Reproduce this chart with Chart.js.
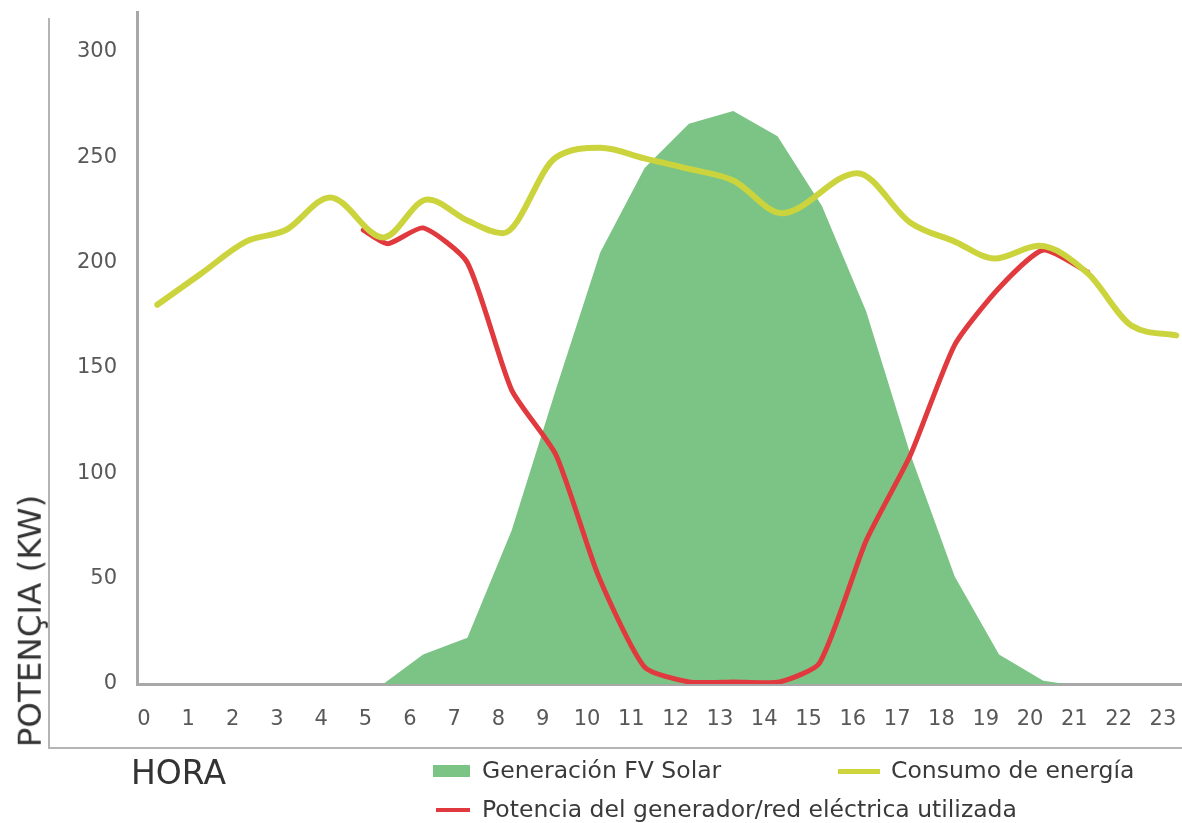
<!DOCTYPE html>
<html lang="es">
<head>
<meta charset="utf-8">
<title>Potencia por hora</title>
<script src="https://cdn.jsdelivr.net/npm/chart.js@4/dist/chart.umd.min.js"></script>
<style>
  html, body { margin: 0; padding: 0; background: #ffffff; }
  #wrap { position: relative; width: 1182px; height: 823px; overflow: hidden; font-family: "DejaVu Sans", sans-serif; color: #333; }
  #chart { position: absolute; left: 0; top: 0; }
  .ytitle { position: absolute; left: 30px; top: 621px; font-size: 32.5px; line-height: 1; white-space: nowrap;
            transform: translate(-50%, -50%) rotate(-90deg); color: #333; }
  .xtitle { position: absolute; left: 131px; top: 756px; font-size: 33px; line-height: 1; color: #333; }
  .leg { position: absolute; font-size: 23.5px; line-height: 1; white-space: nowrap; color: #3a3a3a; }
  .swatch { position: absolute; }
</style>
</head>
<body>
<div id="wrap">
  <canvas id="chart" width="1182" height="823"></canvas>
  <div class="ytitle">POTENÇIA (KW)</div>
  <div class="xtitle">HORA</div>

  <div class="swatch" style="left:433px; top:765px; width:37px; height:12px; background:#7cc485;"></div>
  <div class="leg" style="left:482px; top:759px;">Generación FV Solar</div>

  <div class="swatch" style="left:838px; top:769px; width:42px; height:5px; background:#cdd43c;"></div>
  <div class="leg" style="left:891px; top:759px;">Consumo de energía</div>

  <div class="swatch" style="left:436px; top:808px; width:34px; height:4px; background:#e0393e;"></div>
  <div class="leg" style="left:482px; top:798px;">Potencia del generador/red eléctrica utilizada</div>
</div>

<script>
// Hour tick labels along the x axis
const horas = [0, 1, 2, 3, 4, 5, 6, 7, 8, 9, 10, 11, 12, 13, 14, 15, 16, 17, 18, 19, 20, 21, 22, 23];
// Power tick labels along the y axis (kW)
const potenciaTicks = [0, 50, 100, 150, 200, 250, 300];

// Solar PV generation (kW)
const solarHora = [5.4, 6.3, 7.3, 8.3, 9.3, 10.3, 11.3, 12.3, 13.3, 14.3, 15.3, 16.3, 17.3, 18.3, 19.3, 20.3, 20.8];
const solarKW   = [0, 14, 22, 73, 140, 205, 245, 266, 272, 260, 227, 177, 109, 51, 14, 1.5, 0];

// Energy consumption (kW)
const consumoHora = [0.3, 1.3, 2.3, 3.2, 4.2, 5.4, 6.4, 7.3, 8.1, 9.3, 10.3, 11.3, 12.3, 13.3, 14.4, 16.1, 17.3, 18.3, 19.2, 20.2, 21.3, 22.3, 23.3];
const consumoKW   = [180, 195, 210, 215.5, 231, 212, 230, 220, 214, 250, 254.5, 249.5, 244.5, 239, 223.5, 242.5, 219, 210, 202, 208, 195, 170, 165.5];

// Power drawn from the generator / grid (kW)
const redHora = [4.95, 5.5, 6.3, 7.3, 8.3, 9.3, 10.25, 11.3, 12.3, 13.3, 14.35, 15.25, 16.3, 17.3, 18.3, 19.3, 20.3, 21.3];
const redKW   = [215.5, 209, 216.5, 200, 139.5, 108.7, 51.7, 8, 1, 1, 1, 10, 68, 108.7, 161, 188, 206, 195.6];

const toPoints = (xs, ys) => xs.map((x, i) => ({ x: x, y: ys[i] }));

// Outer frame lines around the axes block
const framePlugin = {
  id: 'frame',
  beforeDraw(chart) {
    const ctx = chart.ctx;
    ctx.save();
    ctx.strokeStyle = '#b4b4b4';
    ctx.lineWidth = 2;
    ctx.beginPath();
    ctx.moveTo(49, 18);
    ctx.lineTo(49, 748);
    ctx.lineTo(1182, 748);
    ctx.stroke();
    ctx.restore();
  }
};

const tickFont = { family: '"DejaVu Sans", sans-serif', size: 21 };

new Chart(document.getElementById('chart'), {
  type: 'line',
  data: {
    datasets: [
      {
        label: 'Consumo de energía',
        data: toPoints(consumoHora, consumoKW),
        borderColor: '#cbd43c',
        borderWidth: 6,
        cubicInterpolationMode: 'monotone',
        borderCapStyle: 'round',
        borderJoinStyle: 'round',
        pointRadius: 0,
        fill: false,
        order: 0
      },
      {
        label: 'Potencia del generador/red eléctrica utilizada',
        data: toPoints(redHora, redKW),
        borderColor: '#e0393e',
        borderWidth: 5,
        tension: 0.2,
        borderCapStyle: 'round',
        borderJoinStyle: 'round',
        pointRadius: 0,
        fill: false,
        order: 1
      },
      {
        label: 'Generación FV Solar',
        data: toPoints(solarHora, solarKW),
        borderWidth: 0,
        borderColor: 'rgba(0,0,0,0)',
        backgroundColor: '#7cc485',
        tension: 0,
        pointRadius: 0,
        fill: 'origin',
        order: 2
      }
    ]
  },
  options: {
    responsive: false,
    animation: false,
    devicePixelRatio: 1,
    layout: { padding: { left: 0, right: 0, top: 12, bottom: 0 } },
    plugins: { legend: { display: false }, tooltip: { enabled: false } },
    scales: {
      x: {
        type: 'linear',
        min: -0.158,
        max: 23.43,
        grid: { display: false, drawTicks: false },
        border: { display: true, color: '#a8a8a8', width: 3 },
        afterBuildTicks(scale) { scale.ticks = horas.map(v => ({ value: v })); },
        afterFit(scale) {
          scale.height = 823 - 684;
          scale.paddingLeft = 0;
          scale.paddingRight = 0;
        },
        ticks: {
          color: '#585858',
          font: tickFont,
          padding: 23,
          maxRotation: 0,
          autoSkip: false,
          callback: v => String(v)
        }
      },
      y: {
        type: 'linear',
        min: 0,
        max: 319,
        grid: { display: false, drawTicks: false },
        border: { display: true, color: '#a8a8a8', width: 3 },
        afterBuildTicks(scale) { scale.ticks = potenciaTicks.map(v => ({ value: v })); },
        afterFit(scale) {
          scale.width = 137;
          scale.paddingTop = 0;
          scale.paddingBottom = 0;
        },
        ticks: {
          color: '#585858',
          font: tickFont,
          padding: 20,
          callback: v => String(v)
        }
      }
    }
  },
  plugins: [framePlugin]
});
</script>
</body>
</html>
